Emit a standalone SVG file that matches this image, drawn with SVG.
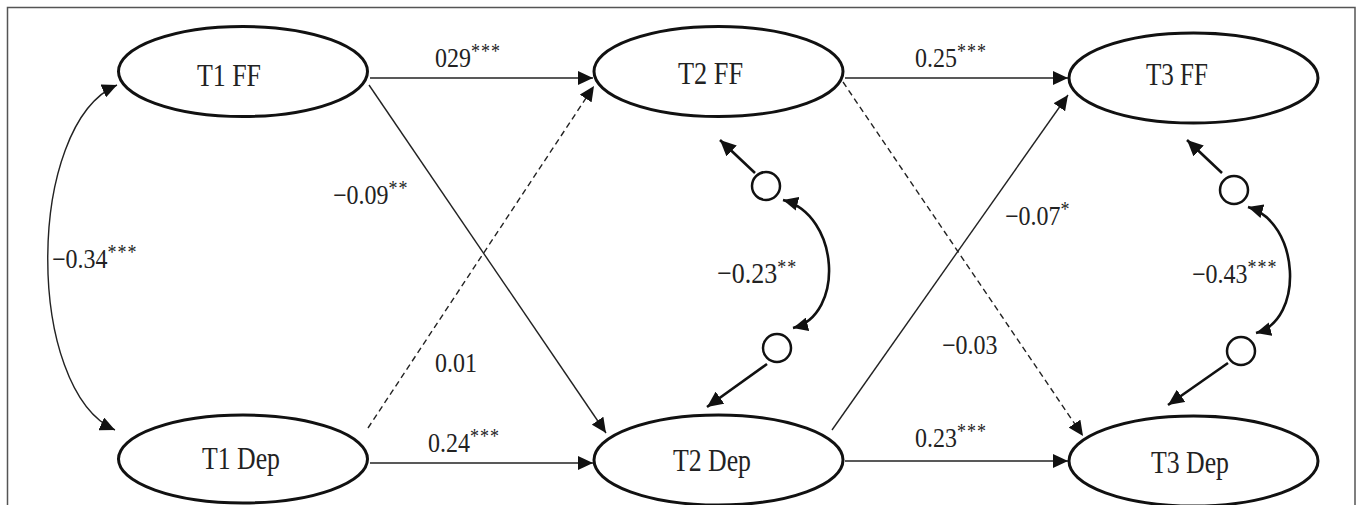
<svg xmlns="http://www.w3.org/2000/svg" width="1360" height="505" viewBox="0 0 1360 505">
<style>
.bg{fill:#fff}
.frame{fill:none;stroke:#555;stroke-width:1.5}
.node ellipse{fill:#fff;stroke:#111;stroke-width:3}
.res{fill:#fff;stroke:#111;stroke-width:2.5}
.nt{font-family:"Liberation Serif","Times New Roman",serif;font-size:27px;fill:#222}
.lb{font-family:"Liberation Serif","Times New Roman",serif;font-size:24px;fill:#222}
.sup{font-size:18px;letter-spacing:1px}
.thin{fill:none;stroke:#222;stroke-width:1.4}
.dash{fill:none;stroke:#222;stroke-width:1.4;stroke-dasharray:6 4}
.thick{fill:none;stroke:#111;stroke-width:2.6}
</style>
<defs>
<marker id="ah" markerUnits="userSpaceOnUse" markerWidth="16" markerHeight="14" refX="15" refY="7" orient="auto-start-reverse">
<path d="M0,0 L15,7 L0,14 z" fill="#111"/>
</marker>
<marker id="ahb" markerUnits="userSpaceOnUse" markerWidth="17" markerHeight="15" refX="16" refY="7.5" orient="auto-start-reverse">
<path d="M0,0 L16,7.5 L0,15 z" fill="#111"/>
</marker>
</defs>
<rect class="bg" x="0" y="0" width="1360" height="505"/>
<rect class="frame" x="7.5" y="7.5" width="1347.5" height="510"/>

<g id="connectors">
<path class="thin" d="M370,78 H593" marker-end="url(#ah)"/>
<path class="thin" d="M845,78 H1068" marker-end="url(#ah)"/>
<path class="thin" d="M370,463 H593" marker-end="url(#ah)"/>
<path class="thin" d="M845,461 H1068" marker-end="url(#ah)"/>
<path class="thin" d="M369,85 L606,433" marker-end="url(#ah)"/>
<path class="dash" d="M368,428 L594,86" marker-end="url(#ah)"/>
<path class="dash" d="M843,82 L1083,436" marker-end="url(#ah)"/>
<path class="thin" d="M832,430 L1068,95" marker-end="url(#ah)"/>
<path class="thin" d="M117,85 C25,125 25,390 115,430" marker-start="url(#ah)" marker-end="url(#ah)"/>
<path class="thick" d="M755,173 L720,140" marker-end="url(#ahb)"/>
<path class="thick" d="M767,364 L707,407" marker-end="url(#ahb)"/>
<path class="thick" d="M783,200 C840,215 845,315 793,328" marker-start="url(#ah)" marker-end="url(#ah)"/>
<path class="thick" d="M1222,173 L1187,140" marker-end="url(#ahb)"/>
<path class="thick" d="M1228,363 L1168,405" marker-end="url(#ahb)"/>
<path class="thick" d="M1248,207 C1300,222 1305,320 1256,333" marker-start="url(#ah)" marker-end="url(#ah)"/>
</g>

<g id="labels">
<text class="lb" transform="translate(435,67) scale(1,1.12)">029<tspan class="sup" dy="-8">***</tspan></text>
<text class="lb" transform="translate(915,67) scale(1,1.12)">0.25<tspan class="sup" dy="-8">***</tspan></text>
<text class="lb" transform="translate(333,204) scale(1,1.12)">−0.09<tspan class="sup" dy="-8">**</tspan></text>
<text class="lb" transform="translate(52,268) scale(1,1.12)">−0.34<tspan class="sup" dy="-8">***</tspan></text>
<text class="lb" transform="translate(435,372) scale(1,1.12)">0.01</text>
<text class="lb" transform="translate(428,452) scale(1,1.12)">0.24<tspan class="sup" dy="-8">***</tspan></text>
<text class="lb" transform="translate(717,283) scale(1,1.12)" style="font-size:26px">−0.23<tspan class="sup" dy="-8">**</tspan></text>
<text class="lb" transform="translate(1192,283) scale(1,1.12)">−0.43<tspan class="sup" dy="-8">***</tspan></text>
<text class="lb" transform="translate(1005,225) scale(1,1.12)">−0.07<tspan class="sup" dy="-8">*</tspan></text>
<text class="lb" transform="translate(942,354) scale(1,1.12)">−0.03</text>
<text class="lb" transform="translate(915,447) scale(1,1.12)">0.23<tspan class="sup" dy="-8">***</tspan></text>
</g>

<g id="residuals">
<circle class="res" cx="766" cy="186" r="14"/>
<circle class="res" cx="777" cy="348" r="14"/>
<circle class="res" cx="1234" cy="190" r="14"/>
<circle class="res" cx="1241" cy="351" r="14"/>
</g>

<g id="T1FF" class="node">
<ellipse cx="243" cy="71.5" rx="124.5" ry="45"/>
<text class="nt" transform="translate(197,86) scale(1,1.15)" textLength="64" lengthAdjust="spacingAndGlyphs">T1 FF</text>
</g>
<g id="T2FF" class="node">
<ellipse cx="718.5" cy="71.5" rx="124.5" ry="45"/>
<text class="nt" transform="translate(678,84) scale(1,1.15)" textLength="65" lengthAdjust="spacingAndGlyphs">T2 FF</text>
</g>
<g id="T3FF" class="node">
<ellipse cx="1193.5" cy="78" rx="124.5" ry="45"/>
<text class="nt" transform="translate(1146,85) scale(1,1.15)" textLength="62" lengthAdjust="spacingAndGlyphs">T3 FF</text>
</g>
<g id="T1Dep" class="node">
<ellipse cx="243" cy="459" rx="124.5" ry="44"/>
<text class="nt" transform="translate(202,469) scale(1,1.15)" textLength="78" lengthAdjust="spacingAndGlyphs">T1 Dep</text>
</g>
<g id="T2Dep" class="node">
<ellipse cx="718.5" cy="460" rx="124.5" ry="45"/>
<text class="nt" transform="translate(673,471) scale(1,1.15)" textLength="78" lengthAdjust="spacingAndGlyphs">T2 Dep</text>
</g>
<g id="T3Dep" class="node">
<ellipse cx="1193.5" cy="461" rx="124.5" ry="45"/>
<text class="nt" transform="translate(1151,473) scale(1,1.15)" textLength="78" lengthAdjust="spacingAndGlyphs">T3 Dep</text>
</g>
</svg>
